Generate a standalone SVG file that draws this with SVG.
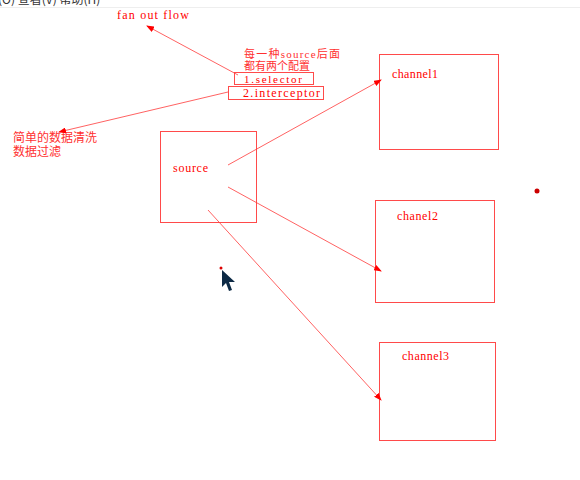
<svg xmlns="http://www.w3.org/2000/svg" width="580" height="480" viewBox="0 0 580 480">
<defs>
<marker id="ah" markerWidth="8" markerHeight="6" refX="7" refY="3" orient="auto" markerUnits="userSpaceOnUse">
<path d="M0,0 L8,3 L0,6 z" fill="#ff0000"/>
</marker>
<style>
.mono{font-family:"Liberation Serif","DejaVu Serif",serif;font-size:12px;fill:#ff0000}
.sel{font-family:"Liberation Serif","DejaVu Serif",serif;font-size:11px;fill:#ff0000}
.cjk{font-family:"Liberation Serif","Noto Sans CJK SC",serif;font-size:12px;fill:#ff3030}
.note{font-family:"Liberation Serif","Noto Sans CJK SC",serif;font-size:11px;fill:#ff3030}
.box{fill:none;stroke:#ff4a4a;stroke-width:1}
.link{fill:none;stroke:#ff3a3a;stroke-width:0.8}
.menu{font-family:"Noto Sans CJK SC",sans-serif;font-size:12px;fill:#333}
</style>
</defs>
<rect width="580" height="480" fill="#ffffff"/>
<text class="menu" x="-14" y="4">文(O)  查看(V)  帮助(H)</text>
<line x1="0" y1="7.5" x2="580" y2="7.5" stroke="#eeeeee"/>

<g id="fanout-label"><text class="mono" x="117" y="19" textLength="72" lengthAdjust="spacing">fan out flow</text></g>

<g id="note">
<text class="note" x="244" y="58" textLength="96">每一种source后面</text>
<text class="note" x="244" y="70" textLength="66">都有两个配置</text>
</g>

<g id="selector">
<rect class="box" x="234.5" y="72.5" width="79" height="12"/>
<text class="sel" x="244" y="83" textLength="58" lengthAdjust="spacing">1.selector</text>
</g>

<g id="interceptor">
<rect class="box" x="228.5" y="86.5" width="95" height="13"/>
<text class="mono" x="243" y="97" textLength="77" lengthAdjust="spacing">2.interceptor</text>
</g>

<g id="clean-label">
<text class="cjk" x="13" y="142">简单的数据清洗</text>
<text class="cjk" x="13" y="156">数据过滤</text>
</g>

<g id="source">
<rect class="box" x="160.5" y="131.5" width="96" height="91"/>
<text class="mono" x="173" y="172" textLength="35" lengthAdjust="spacing">source</text>
</g>

<g id="channel1">
<rect class="box" x="379.5" y="54.5" width="119" height="95"/>
<text class="mono" x="392" y="78" textLength="46" lengthAdjust="spacing">channel1</text>
</g>

<g id="channel2">
<rect class="box" x="375.5" y="200.5" width="119" height="102"/>
<text class="mono" x="397" y="220" textLength="41" lengthAdjust="spacing">chanel2</text>
</g>

<g id="channel3">
<rect class="box" x="379.5" y="342.5" width="116" height="98"/>
<text class="mono" x="402" y="360" textLength="47" lengthAdjust="spacing">channel3</text>
</g>

<g id="connectors">
<line class="link" x1="238" y1="75" x2="147" y2="26" marker-end="url(#ah)"/>
<line class="link" x1="228" y1="92" x2="59" y2="132" marker-end="url(#ah)"/>
<line class="link" x1="228" y1="165" x2="381" y2="80" marker-end="url(#ah)"/>
<line class="link" x1="228" y1="187" x2="381" y2="271" marker-end="url(#ah)"/>
<line class="link" x1="208" y1="210" x2="381" y2="400" marker-end="url(#ah)"/>
</g>

<circle cx="221" cy="268" r="1.5" fill="#dd0000"/>
<polygon points="222,270 222,287 226,283 229,291 232,290 229,282 235,282" fill="#0d2a45"/>
<circle cx="537" cy="191" r="2.5" fill="#cc0000"/>
</svg>
